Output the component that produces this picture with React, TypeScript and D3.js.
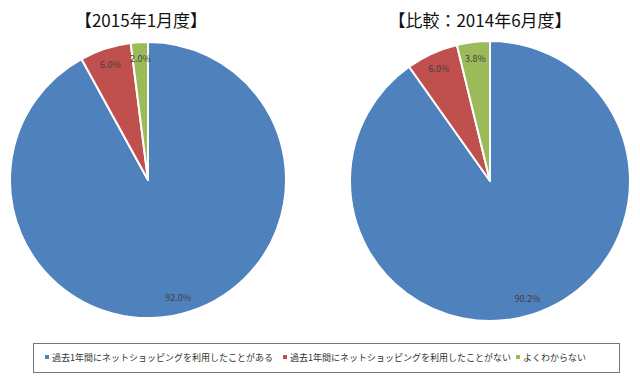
import React from "react";
import * as d3 from "d3";

const categories = [
  "過去1年間にネットショッピングを利用したことがある",
  "過去1年間にネットショッピングを利用したことがない",
  "よくわからない",
];
const colors = ["#4f81bd", "#c0504d", "#9bbb59"];
const titles = ["【2015年1月度】", "【比較：2014年6月度】"];
const values2015 = [92.0, 6.0, 2.0];
const values2014 = [90.2, 6.0, 3.8];

const FONT = "'Noto Sans CJK JP', 'Noto Sans', sans-serif";

function Pie({ values, cx, cy, r, title, tx }: { values: number[]; cx: number; cy: number; r: number; title: string; tx: number }) {
  const pie = d3.pie<number>().sort(null).value((d) => d)(values);
  const arc = d3.arc<d3.PieArcDatum<number>>().innerRadius(0).outerRadius(r);
  const labelArc = d3.arc<d3.PieArcDatum<number>>().innerRadius(r * 0.88).outerRadius(r * 0.88);
  return (
    <g>
      <text x={tx} y={27} textAnchor="middle" fontSize={17} fontWeight={400} fontFamily={FONT} fill="#111">
        {title}
      </text>
      <g transform={`translate(${cx},${cy})`}>
        {pie.map((p, i) => (
          <path key={i} d={arc(p) || ""} fill={colors[i]} stroke="#fff" strokeWidth={2} strokeLinejoin="round" />
        ))}
        {pie.map((p, i) => {
          const [x, y] = labelArc.centroid(p);
          return (
            <text key={"l" + i} x={x} y={y} textAnchor="middle" dominantBaseline="central" fontSize={9} fontFamily={FONT} fill="#404040">
              {d3.format(".1f")(values[i])}%
            </text>
          );
        })}
      </g>
    </g>
  );
}

export default function App() {
  const legendX = [47, 285, 518];
  return (
    <svg width={640} height={381} style={{ position: "absolute", left: 0, top: 0, background: "#fff" }}>
      <rect x={0} y={0} width={640} height={381} fill="#fff" />
      <Pie values={values2015} cx={148} cy={180} r={138} title={titles[0]} tx={141} />
      <Pie values={values2014} cx={490} cy={181} r={140} title={titles[1]} tx={480} />
      <rect x={33.5} y={343.5} width={586} height={29} fill="#fff" stroke="#777" strokeWidth={1} />
      {categories.map((c, i) => (
        <g key={i}>
          <rect x={legendX[i] - 2} y={355} width={4} height={4} fill={colors[i]} />
          <text x={legendX[i] + 5} y={357.5} dominantBaseline="central" fontSize={9} fontFamily={FONT} fill="#333">
            {c}
          </text>
        </g>
      ))}
    </svg>
  );
}
